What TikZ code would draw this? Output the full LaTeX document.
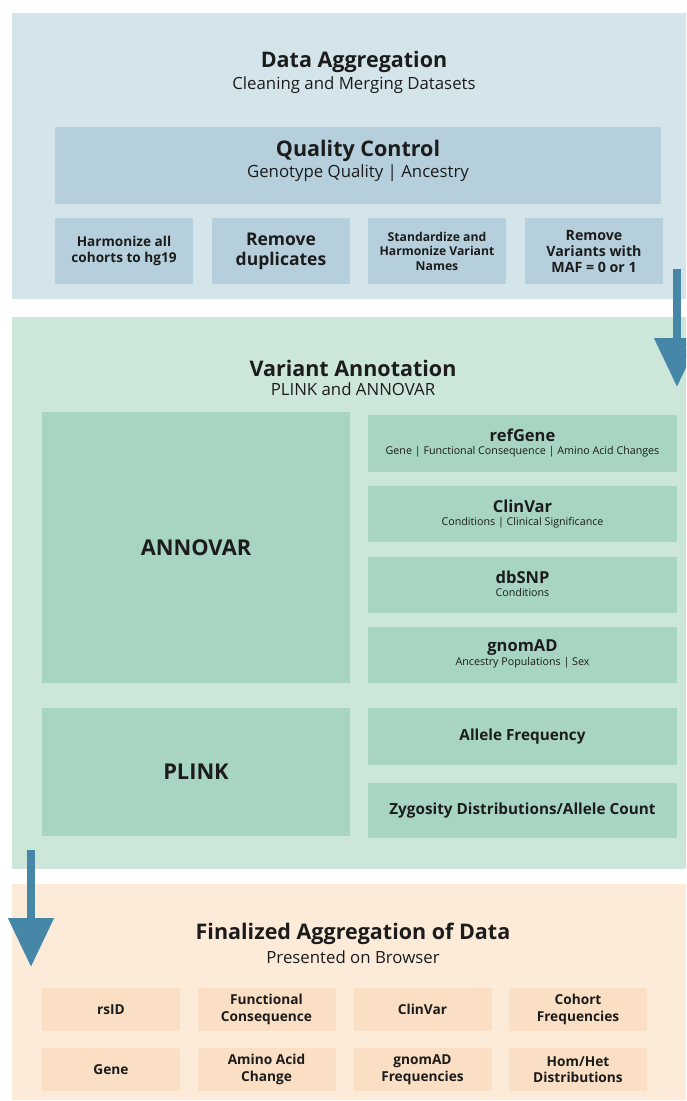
\documentclass[tikz,border=0pt]{standalone}
\usepackage{fontspec}
\setmainfont{Open Sans}
\usetikzlibrary{arrows.meta}
\definecolor{panA}{HTML}{D4E4EB}
\definecolor{boxA}{HTML}{B5D0DC}
\definecolor{panB}{HTML}{CCE6D9}
\definecolor{boxB}{HTML}{A7D5C1}
\definecolor{panC}{HTML}{FDEBDA}
\definecolor{boxC}{HTML}{FADFC5}
\definecolor{arrowc}{HTML}{4687A8}
\definecolor{txt}{HTML}{1C1C1C}
\tikzset{
  panel/.style={fill=#1, draw=none, inner sep=0pt, anchor=center},
  box/.style={fill=#1, draw=none, inner sep=0pt, align=center, text=txt, anchor=center},
  lbl/.style={text=txt, inner sep=0pt, align=center, anchor=center},
  flow/.style={draw=arrowc, line width=8pt, -{Triangle[width=44pt,length=49pt]}, arrowc}
}
\begin{document}
\begin{tikzpicture}[x=1pt,y=-1pt]
\useasboundingbox (0,0) rectangle (686,1101);
\begin{scope}
\clip (0,0) rectangle (686,1101);
% panels
\node[panel=panA, minimum width=674pt, minimum height=286pt] (p1) at (349,156) {};
\node[panel=panB, minimum width=674pt, minimum height=552pt] (p2) at (349,593) {};
\node[panel=panC, minimum width=674pt, minimum height=216pt] (p3) at (349,992) {};

% panel 1
\node[lbl, font=\fontsize{21.5}{26}\selectfont\bfseries] (t1) at (354,62) {Data Aggregation};
\node[lbl, font=\fontsize{16.8}{20}\selectfont] (s1) at (354,85) {Cleaning and Merging Datasets};
\node[box=boxA, minimum width=606pt, minimum height=77pt] (qc) at (358,165.5) {};
\node[lbl, font=\fontsize{21.5}{26}\selectfont\bfseries] (qct) at (358,151) {Quality Control};
\node[lbl, font=\fontsize{16.8}{20}\selectfont] (qcs) at (358,173) {Genotype Quality | Ancestry};
\node[box=boxA, minimum width=138pt, minimum height=66pt, font=\fontsize{13.6}{16}\selectfont\bfseries] (h1) at (124,251) {Harmonize all\\cohorts to hg19};
\node[box=boxA, minimum width=138pt, minimum height=66pt, font=\fontsize{17.5}{20}\selectfont\bfseries] (h2) at (281,251) {Remove\\duplicates};
\node[box=boxA, minimum width=138pt, minimum height=66pt, font=\fontsize{12.2}{14.5}\selectfont\bfseries] (h3) at (437,251) {Standardize and\\Harmonize Variant\\Names};
\node[box=boxA, minimum width=138pt, minimum height=66pt, font=\fontsize{14.2}{16}\selectfont\bfseries] (h4) at (594,251) {Remove\\Variants with\\MAF = 0 or 1};

% panel 2
\node[lbl, font=\fontsize{21.5}{26}\selectfont\bfseries] (t2) at (353,368) {Variant Annotation};
\node[lbl, font=\fontsize{16.8}{20}\selectfont] (s2) at (353,389) {PLINK and ANNOVAR};
\node[box=boxB, minimum width=308pt, minimum height=271pt, font=\fontsize{21.8}{26}\selectfont\bfseries] (annovar) at (196,547.5) {ANNOVAR};
\node[box=boxB, minimum width=309pt, minimum height=57pt] (refgene) at (522.5,443.5) {};
\node[lbl, font=\fontsize{16.5}{20}\selectfont\bfseries] (refgenet) at (522.5,435.5) {refGene};
\node[lbl, font=\fontsize{10.7}{13}\selectfont] (refgenes) at (522.5,451.5) {Gene | Functional Consequence | Amino Acid Changes};
\node[box=boxB, minimum width=309pt, minimum height=56pt] (clinvar) at (522.5,514) {};
\node[lbl, font=\fontsize{16.5}{20}\selectfont\bfseries] (clinvart) at (522.5,506.5) {ClinVar};
\node[lbl, font=\fontsize{10.7}{13}\selectfont] (clinvars) at (522.5,522.5) {Conditions | Clinical Significance};
\node[box=boxB, minimum width=309pt, minimum height=56pt] (dbsnp) at (522.5,585) {};
\node[lbl, font=\fontsize{16.5}{20}\selectfont\bfseries] (dbsnpt) at (522.5,577) {dbSNP};
\node[lbl, font=\fontsize{10.7}{13}\selectfont] (dbsnps) at (522.5,592.5) {Conditions};
\node[box=boxB, minimum width=309pt, minimum height=56pt] (gnomad) at (522.5,655) {};
\node[lbl, font=\fontsize{16.5}{20}\selectfont\bfseries] (gnomadt) at (522.5,647.5) {gnomAD};
\node[lbl, font=\fontsize{10.7}{13}\selectfont] (gnomads) at (522.5,663) {Ancestry Populations | Sex};
\node[box=boxB, minimum width=308pt, minimum height=128pt, font=\fontsize{21.8}{26}\selectfont\bfseries] (plink) at (196,772) {PLINK};
\node[box=boxB, minimum width=309pt, minimum height=57pt, font=\fontsize{15.3}{18}\selectfont\bfseries] (allele) at (522.5,736.5) {Allele Frequency};
\node[box=boxB, minimum width=309pt, minimum height=55pt, font=\fontsize{15.3}{18}\selectfont\bfseries] (zyg) at (522.5,810.5) {Zygosity Distributions/Allele Count};

% panel 3
\node[lbl, font=\fontsize{21.5}{26}\selectfont\bfseries] (t3) at (353,934) {Finalized Aggregation of Data};
\node[lbl, font=\fontsize{16.8}{20}\selectfont] (s3) at (353,957) {Presented on Browser};
\tikzset{fbox/.style={box=boxC, minimum width=138pt, minimum height=43pt, font=\fontsize{13.7}{16.5}\selectfont\bfseries}}
\node[fbox] (rsid) at (111,1009.5) {rsID};
\node[fbox] (func) at (266.5,1009.5) {Functional\\Consequence};
\node[fbox] (clin) at (422.5,1009.5) {ClinVar};
\node[fbox] (coh) at (578,1009.5) {Cohort\\Frequencies};
\node[fbox] (gene) at (111,1069.5) {Gene};
\node[fbox] (aa) at (266.5,1069.5) {Amino Acid\\Change};
\node[fbox] (gfreq) at (422.5,1069.5) {gnomAD\\Frequencies};
\node[fbox] (homhet) at (578,1069.5) {Hom/Het\\Distributions};

% arrows
\coordinate (a1s) at (677,269);
\coordinate (a1e) at (677,387);
\coordinate (a2s) at (31,850);
\coordinate (a2e) at (31,967);
\draw[flow] (a1s) -- (a1e);
\draw[flow] (a2s) -- (a2e);
\end{scope}
\end{tikzpicture}
\end{document}
